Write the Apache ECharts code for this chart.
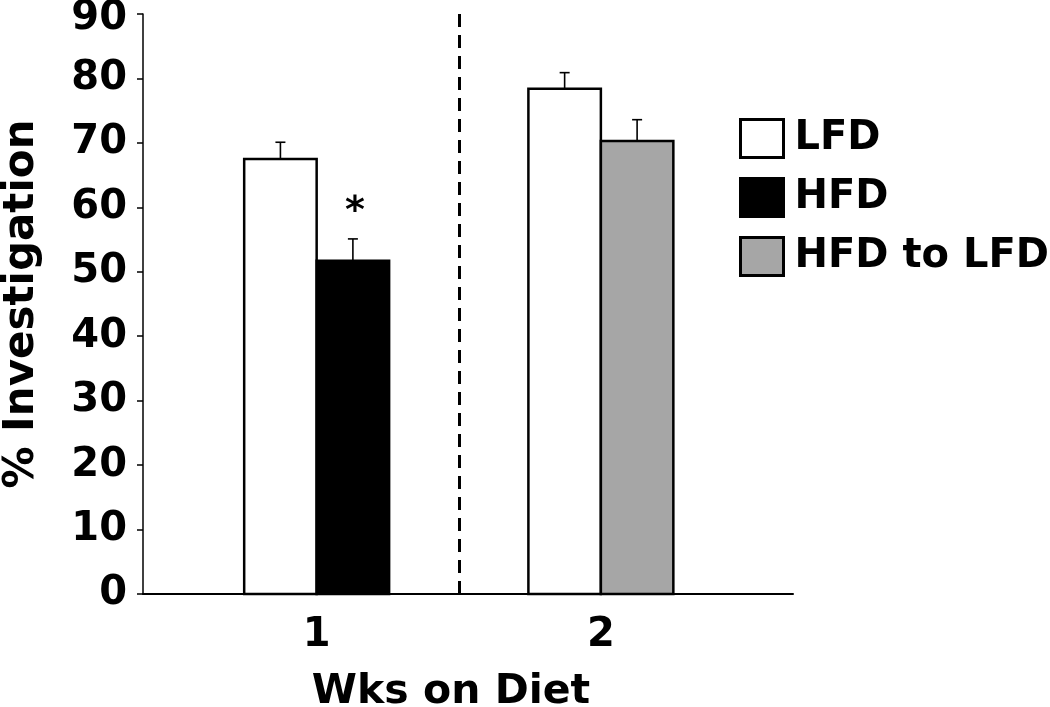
<!DOCTYPE html>
<html>
<head>
<meta charset="utf-8">
<script src="https://cdn.jsdelivr.net/npm/echarts@6/dist/echarts.min.js"></script>
<style>html,body{margin:0;padding:0;background:#fff;}#c{width:1050px;height:707px;}</style>
</head>
<body>
<div id="c"></div>
<script>
// ---- data ----
const categories = ['1', '2'];
const categoryPos = [1, 2];
const seriesNames = ['LFD', 'HFD', 'HFD to LFD'];
const lfdValues = [67.5, 78.4];
const lfdErrors = [2.6, 2.5];
const hfdValues = [51.7];
const hfdErrors = [3.4];
const switchValues = [70.3];
const switchErrors = [3.3];
const hfdMarks = ['*'];
const yTicks = [0, 10, 20, 30, 40, 50, 60, 70, 80, 90];

const FONT = 'DejaVu Sans';
const BW = 0.255; // bar width in axis units

function makeRender(side, fill, marks) {
  return function (params, api) {
    const x = api.value(0), y = api.value(1), e = api.value(2);
    const x0 = side < 0 ? x - BW : x;
    const pTop = api.coord([x0, y]);
    const pBot = api.coord([x0 + BW, 0]);
    const pc = api.coord([x0 + BW / 2, y]);
    const pe = api.coord([x0 + BW / 2, y + e]);
    const children = [
      { type: 'line', shape: { x1: pc[0], y1: pc[1], x2: pe[0], y2: pe[1] }, style: { stroke: '#000', lineWidth: 1.6 } },
      { type: 'line', shape: { x1: pe[0] - 5, y1: pe[1], x2: pe[0] + 5, y2: pe[1] }, style: { stroke: '#000', lineWidth: 1.6 } },
      { type: 'rect', shape: { x: pTop[0], y: pTop[1], width: pBot[0] - pTop[0], height: pBot[1] - pTop[1] },
        style: { fill: fill, stroke: '#000', lineWidth: 2.5 } }
    ];
    if (marks && marks[params.dataIndex]) {
      children.push({ type: 'text', x: pe[0] + 2, y: pe[1] - 8,
        style: { text: marks[params.dataIndex], fill: '#000', font: 'bold 38px ' + FONT, align: 'center', verticalAlign: 'bottom' } });
    }
    return { type: 'group', children: children };
  };
}

const lfdData = categoryPos.map((p, i) => [p, lfdValues[i], lfdErrors[i]]);
const hfdData = [[categoryPos[0], hfdValues[0], hfdErrors[0]]];
const switchData = [[categoryPos[1], switchValues[0], switchErrors[0]]];

const chart = echarts.init(document.getElementById('c'));
chart.setOption({
  animation: false,
  backgroundColor: '#fff',
  grid: { left: 143, right: 257, top: 14, bottom: 113, containLabel: false, outerBoundsMode: 'none' },
  legend: {
    orient: 'vertical', left: 739, top: 118, itemWidth: 43, itemHeight: 38, itemGap: 18, padding: 0,
    icon: 'rect',
    textStyle: { fontFamily: FONT, fontWeight: 'bold', fontSize: 40, lineHeight: 38, color: '#000', padding: [0, 0, 0, 6] },
    data: [
      { name: seriesNames[0], itemStyle: { color: '#fff', borderColor: '#000', borderWidth: 3 } },
      { name: seriesNames[1], itemStyle: { color: '#000', borderColor: '#000', borderWidth: 3 } },
      { name: seriesNames[2], itemStyle: { color: '#a6a6a6', borderColor: '#000', borderWidth: 3 } }
    ]
  },
  xAxis: {
    type: 'value', min: 0.389, max: 2.676,
    name: 'Wks on Diet', nameLocation: 'middle', nameGap: 78,
    nameTextStyle: { fontFamily: FONT, fontWeight: 'bold', fontSize: 41, color: '#000', padding: [0, 34, 0, 0] },
    axisLine: { show: true, lineStyle: { color: '#000', width: 2 } },
    axisTick: { show: false },
    splitLine: { show: false },
    axisLabel: {
      customValues: categoryPos, margin: 22,
      fontFamily: FONT, fontWeight: 'bold', fontSize: 40, color: '#000',
      formatter: v => categories[categoryPos.indexOf(v)] || ''
    }
  },
  yAxis: {
    type: 'value', min: 0, max: 90, interval: 10,
    name: '% Investigation', nameLocation: 'middle', nameGap: 100, nameRotate: 90,
    nameTextStyle: { fontFamily: FONT, fontWeight: 'bold', fontSize: 42, color: '#000' },
    axisLine: { show: true, lineStyle: { color: '#000', width: 1.5 } },
    axisTick: { show: true, length: 6, lineStyle: { color: '#000', width: 1.5 } },
    splitLine: { show: false },
    axisLabel: { margin: 16, fontFamily: FONT, fontWeight: 'bold', fontSize: 40, color: '#000',
      customValues: yTicks,
      formatter: v => v === yTicks[yTicks.length - 1] ? '{top|' + v + '}' : String(v),
      rich: { top: { fontFamily: FONT, fontWeight: 'bold', fontSize: 40, color: '#000', padding: [9, 0, 0, 0] } }
    }
  },
  series: [
    { name: seriesNames[0], type: 'custom', data: lfdData, renderItem: makeRender(-1, '#fff'),
      itemStyle: { color: '#fff', borderColor: '#000' }, encode: { x: 0, y: 1 } },
    { name: seriesNames[1], type: 'custom', data: hfdData, renderItem: makeRender(1, '#000', hfdMarks),
      itemStyle: { color: '#000', borderColor: '#000' }, encode: { x: 0, y: 1 } },
    { name: seriesNames[2], type: 'custom', data: switchData, renderItem: makeRender(1, '#a6a6a6'),
      itemStyle: { color: '#a6a6a6', borderColor: '#000' }, encode: { x: 0, y: 1 } },
    { type: 'line', data: [], silent: true,
      markLine: { silent: true, symbol: 'none', label: { show: false },
        lineStyle: { color: '#000', width: 3, type: [13, 8] },
        data: [{ xAxis: 1.5 }] } }
  ]
});
</script>
</body>
</html>
